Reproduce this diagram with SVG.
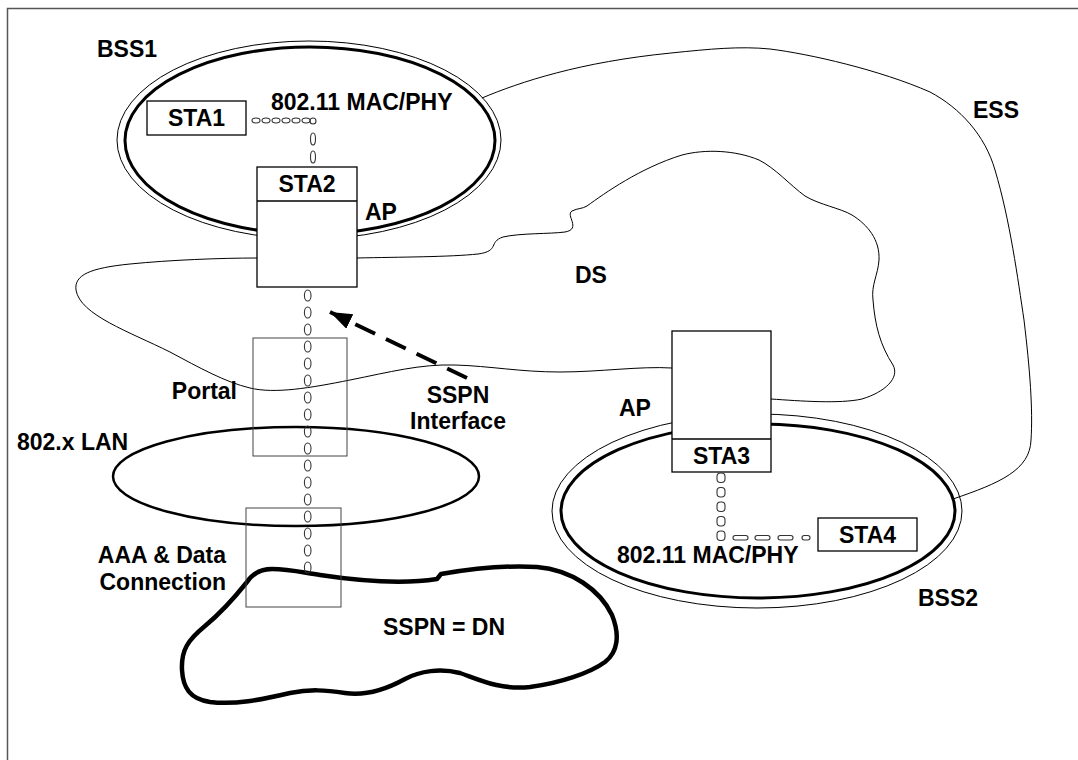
<svg xmlns="http://www.w3.org/2000/svg" width="1078" height="760" viewBox="0 0 1078 760">
<defs>
<style>
.lbl{font-family:"Liberation Sans",Arial,sans-serif;font-weight:bold;font-size:23px;fill:#000}
.thin{fill:none;stroke:#000;stroke-width:1}
.thick{fill:none;stroke:#000;stroke-width:3}
.box{fill:#fff;stroke:#000;stroke-width:1.3}
.gbox{fill:none;stroke:#444;stroke-width:1}
.lnk{fill:none;stroke:#333;stroke-width:1.1}
</style>
<marker id="ah" markerUnits="userSpaceOnUse" markerWidth="24" markerHeight="18" refX="22" refY="8" orient="auto">
<path d="M0,0 L22,8 L0,16 Z" fill="#000"/>
</marker>
</defs>
<rect x="0" y="0" width="1078" height="760" fill="#fff"/>
<rect x="7.5" y="8.5" width="1100" height="800" fill="none" stroke="#555" stroke-width="1.5"/>

<g id="ess">
<path class="thin" d="M482 98 C520 82 580 62 671 53 C710 49 740 46 770 49 C810 54 880 70 930 92 C960 108 985 135 995 170 C1010 220 1018 280 1024 320 C1030 370 1033 410 1031 440 C1030 470 1000 483 953 499"/>
<text class="lbl" x="973" y="118">ESS</text>
</g>

<g id="ds">
<path class="thin" d="M300 258 L357 258 C400 257 450 257 478 254 C500 251 488 242 503 237 C520 233 550 234 565 232 C582 229 565 215 572 211 C578 208 582 209 587 206 C605 193 640 168 682 155 C705 149 735 150 759 160 C775 168 790 185 805 196 C820 205 840 208 852 215 C868 225 880 240 879 260 C878 275 871 285 873 300 C875 325 880 345 893 365 C900 378 885 392 862 399 C840 404 800 401 771 399 L720 395 L672 368 C640 366 600 372 560 372 C520 372 490 366 455 365 C420 364 390 372 350 380 C310 388 275 394 250 388 C225 382 200 368 170 352 C130 332 80 315 76 290 C74 275 90 268 130 264 C170 260 220 258 257 258 Z"/>
<text class="lbl" x="575" y="283">DS</text>
</g>

<g id="bss1">
<ellipse class="thin" cx="309" cy="140" rx="192" ry="99"/>
<ellipse class="thick" cx="310" cy="140.5" rx="185" ry="93.5"/>
<text class="lbl" x="97" y="57">BSS1</text>
<text class="lbl" x="271" y="110">802.11 MAC/PHY</text>
</g>

<g id="bss2">
<ellipse class="thin" cx="757" cy="511" rx="205" ry="97"/>
<ellipse class="thick" cx="758" cy="511" rx="197" ry="87"/>
<text class="lbl" x="617" y="563">802.11 MAC/PHY</text>
<text class="lbl" x="918" y="606">BSS2</text>
</g>

<g id="lan">
<ellipse cx="296" cy="476.5" rx="183" ry="49.5" fill="none" stroke="#000" stroke-width="2.5"/>
<text class="lbl" x="17" y="450">802.x LAN</text>
</g>

<g id="sspn">
<path fill="none" stroke="#000" stroke-width="4.5" stroke-linejoin="round" d="M247 582 C253 573 262 569 272 569 C290 569 305 573 320 575 C360 581 405 584 437 579 L441 574 C470 569 505 565 537 567 C572 570 600 590 612 615 C620 635 618 652 605 662 C590 673 560 683 530 687 C500 690 480 680 460 673 C440 668 420 671 405 679 C385 690 365 696 345 693 C325 690 310 689 290 693 C260 700 235 705 210 702 C190 699 183 688 182 670 C181 650 188 640 205 626 C222 612 235 597 247 582 Z"/>
<text class="lbl" x="383" y="635">SSPN = DN</text>
</g>

<g id="sta1">
<rect class="box" x="147" y="101" width="99" height="34"/>
<text class="lbl" x="196.5" y="126" text-anchor="middle">STA1</text>
</g>

<g id="ap1">
<rect class="box" x="257" y="167" width="100" height="120"/>
<line x1="257" y1="201" x2="357" y2="201" stroke="#000" stroke-width="1.3"/>
<text class="lbl" x="307" y="192" text-anchor="middle">STA2</text>
<text class="lbl" x="365" y="220">AP</text>
</g>

<g id="portal">
<rect class="gbox" x="253" y="338" width="94" height="118"/>
<text class="lbl" x="237" y="399" text-anchor="end">Portal</text>
</g>

<g id="aaa">
<rect class="gbox" x="246" y="508" width="95" height="99"/>
<text class="lbl" x="226" y="563" text-anchor="end">AAA &amp; Data</text>
<text class="lbl" x="226" y="590" text-anchor="end">Connection</text>
</g>

<g id="ap2">
<rect class="box" x="672" y="331" width="99" height="141"/>
<line x1="672" y1="439" x2="771" y2="439" stroke="#000" stroke-width="1.3"/>
<text class="lbl" x="721.5" y="464" text-anchor="middle">STA3</text>
<text class="lbl" x="619" y="416">AP</text>
</g>

<g id="sta4">
<rect class="box" x="818" y="518" width="99" height="33"/>
<text class="lbl" x="867.5" y="543" text-anchor="middle">STA4</text>
</g>

<g id="connectors">
<g class="lnk">
<ellipse cx="256" cy="120.5" rx="4" ry="2.5"/>
<ellipse cx="266" cy="120.5" rx="4" ry="2.5"/>
<ellipse cx="276" cy="120.5" rx="4" ry="2.5"/>
<ellipse cx="286" cy="120.5" rx="4" ry="2.5"/>
<ellipse cx="296" cy="120.5" rx="4" ry="2.5"/>
<ellipse cx="306" cy="120.5" rx="4" ry="2.5"/>
<ellipse cx="313" cy="121" rx="3" ry="3"/>
<ellipse cx="313" cy="139" rx="2.5" ry="6"/>
<ellipse cx="313" cy="157" rx="2.5" ry="6"/>
</g>
<g class="lnk">
<ellipse cx="307.7" cy="295.5" rx="3.3" ry="5.5"/>
<ellipse cx="307.7" cy="312.5" rx="3.3" ry="5.5"/>
<ellipse cx="307.7" cy="329.5" rx="3.3" ry="5.5"/>
<ellipse cx="307.7" cy="346.5" rx="3.3" ry="5.5"/>
<ellipse cx="307.7" cy="363.5" rx="3.3" ry="5.5"/>
<ellipse cx="307.7" cy="380.5" rx="3.3" ry="5.5"/>
<ellipse cx="307.7" cy="397.5" rx="3.3" ry="5.5"/>
<ellipse cx="307.7" cy="414.5" rx="3.3" ry="5.5"/>
<ellipse cx="307.7" cy="431.5" rx="3.3" ry="5.5"/>
<ellipse cx="307.7" cy="448.5" rx="3.3" ry="5.5"/>
<ellipse cx="307.7" cy="465.5" rx="3.3" ry="5.5"/>
<ellipse cx="307.7" cy="482.5" rx="3.3" ry="5.5"/>
<ellipse cx="307.7" cy="499.5" rx="3.3" ry="5.5"/>
<ellipse cx="307.7" cy="516.5" rx="3.3" ry="5.5"/>
<ellipse cx="307.7" cy="533.5" rx="3.3" ry="5.5"/>
<ellipse cx="307.7" cy="550.5" rx="3.3" ry="5.5"/>
<ellipse cx="307.7" cy="567.5" rx="3.3" ry="5.5"/>
</g>
<g class="lnk">
<rect x="717" y="473" width="8" height="9.5" rx="3.5"/>
<rect x="717" y="487.5" width="8" height="9.5" rx="3.5"/>
<rect x="717" y="502" width="8" height="9.5" rx="3.5"/>
<rect x="717" y="516.5" width="8" height="9.5" rx="3.5"/>
<rect x="717" y="531" width="8" height="9.5" rx="3.5"/>
<rect x="733" y="535.5" width="15" height="4.5" rx="2.2"/>
<rect x="755" y="535.5" width="15" height="4.5" rx="2.2"/>
<rect x="778" y="535.5" width="15" height="4.5" rx="2.2"/>
<rect x="802" y="535.5" width="8" height="4.5" rx="2.2"/>
</g>
<line x1="467" y1="378" x2="330" y2="312" stroke="#000" stroke-width="4" stroke-dasharray="22 12" marker-end="url(#ah)"/>
</g>

<g id="sspn-if">
<text class="lbl" x="458" y="403" text-anchor="middle">SSPN</text>
<text class="lbl" x="458" y="429" text-anchor="middle">Interface</text>
</g>
</svg>
